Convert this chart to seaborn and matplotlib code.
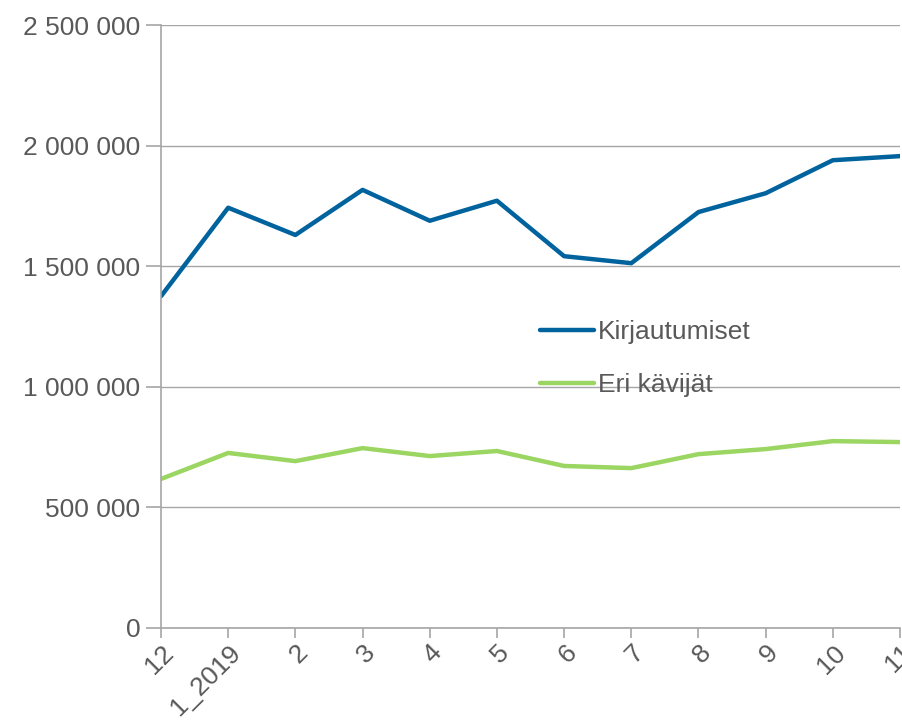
import pandas as pd
import matplotlib.pyplot as plt
import matplotlib.ticker as mticker
import seaborn as sns

# Kuukaudet ja arvot
months = ['12', '1_2019', '2', '3', '4', '5', '6', '7', '8', '9', '10', '11']
kirjautumiset = [1376000, 1743000, 1630000, 1817000, 1689000, 1772000,
                 1542000, 1513000, 1725000, 1803000, 1940000, 1957000]
eri_kavijat = [618000, 726000, 692000, 746000, 713000, 734000,
               672000, 663000, 721000, 742000, 775000, 771000]

df = pd.DataFrame({
    'kk': months * 2,
    'arvo': kirjautumiset + eri_kavijat,
    'sarja': ['Kirjautumiset'] * len(months) + ['Eri kävijät'] * len(months),
})

sns.set_style('white')
plt.rcParams['font.family'] = ['Liberation Sans', 'DejaVu Sans']

fig = plt.figure(figsize=(9.02, 7.2), dpi=100)
ax = fig.add_axes([0.1785, 0.1278, 0.8193, 0.8372])

sns.lineplot(data=df, x='kk', y='arvo', hue='sarja', sort=False,
             palette={'Kirjautumiset': '#00639E', 'Eri kävijät': '#9BD562'},
             linewidth=3.2, ax=ax)

ax.set_xlim(0, len(months) - 1)
ax.set_ylim(0, 2500000)
ax.yaxis.set_major_locator(mticker.MultipleLocator(500000))
ax.yaxis.set_major_formatter(mticker.FuncFormatter(lambda v, p: f'{int(v):,}'.replace(',', ' ')))
ax.grid(axis='y', color='#A6A6A6', linewidth=1)
ax.set_axisbelow(True)

for s in ['top', 'right']:
    ax.spines[s].set_visible(False)
for s in ['left', 'bottom']:
    ax.spines[s].set_color('#A6A6A6')
    ax.spines[s].set_linewidth(1.2)

ax.tick_params(axis='both', colors='#A6A6A6', labelcolor='#595959',
               labelsize=19, length=7, width=1.2, direction='out')
ax.tick_params(axis='y', left=True, length=11, pad=4)
ax.tick_params(axis='x', bottom=True, length=7, pad=2)
plt.setp(ax.get_xticklabels(), rotation=45, ha='right', rotation_mode='anchor')

ax.set_xlabel('')
ax.set_ylabel('')

leg = ax.legend(loc='center left', bbox_to_anchor=(0.481, 0.447), frameon=False,
                fontsize=19, labelspacing=1.1, handlelength=2.05, handletextpad=0.15)
for t in leg.get_texts():
    t.set_color('#595959')

plt.savefig('out.png', dpi=100)
plt.close()
